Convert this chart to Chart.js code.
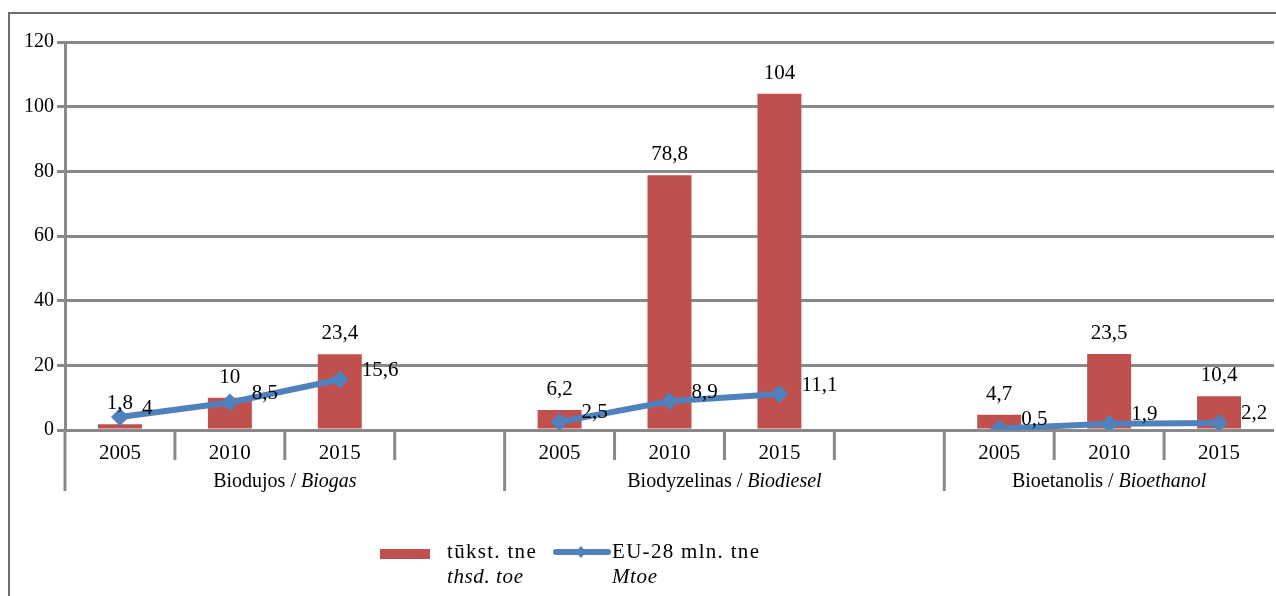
<!DOCTYPE html>
<html>
<head>
<meta charset="utf-8">
<script src="https://cdn.jsdelivr.net/npm/chart.js@4.4.1/dist/chart.umd.min.js"></script>
<style>
  html, body { margin: 0; padding: 0; background: #fff; }
  #wrap { position: relative; width: 1276px; height: 596px; }
  .lg { position: absolute; font-family: "Liberation Serif", serif; font-size: 21px; line-height: 25px; color: #000; white-space: nowrap; letter-spacing: 1.3px; }
  .lg i { display: block; letter-spacing: 0.6px; }
  .sym { position: absolute; }
</style>
</head>
<body>
<div id="wrap">
  <canvas id="chart" width="1276" height="596"></canvas>
  <svg class="sym" style="left:380px;top:549px" width="50" height="10"><rect x="0" y="0" width="50" height="10" fill="#C0504D"/></svg>
  <div class="lg" style="left:447px;top:539px">tūkst. tne<i>thsd. toe</i></div>
  <svg class="sym" style="left:553px;top:544px" width="58" height="16">
    <line x1="3" y1="8" x2="55" y2="8" stroke="#4F81BD" stroke-width="6" stroke-linecap="round"/>
    <polygon points="28,2 33,8 28,14 23,8" fill="#4F81BD"/>
  </svg>
  <div class="lg" style="left:612px;top:539px">EU-28 mln. tne<i>Mtoe</i></div>
</div>
<script>
// data
const years = ['2005', '2010', '2015', '', '2005', '2010', '2015', '', '2005', '2010', '2015'];
const groupNames = ['Biodujos', 'Biodyzelinas', 'Bioetanolis'];
const groupNamesEn = ['Biogas', 'Biodiesel', 'Bioethanol'];
const groupStart = [0, 4, 8];
const groupEnd = [3, 7, 10];
const thsdToe = [1.8, 10, 23.4, null, 6.2, 78.8, 104, null, 4.7, 23.5, 10.4];
const eu28Mtoe = [4, 8.5, 15.6, null, 2.5, 8.9, 11.1, null, 0.5, 1.9, 2.2];
const yMin = 0, yMax = 120, yStep = 20;

const FONT = '"Liberation Serif", serif';
const GRID = '#898989';

function fmt(v) {
    return String(v).replace('.', ',');
}

//extra drawing: border, axis dividers, group names, value labels
const decor = {
    id: 'decor',
    afterDatasetsDraw(chart) {
        const ctx = chart.ctx;
        ctx.save();
        ctx.font = '21px ' + FONT;
        ctx.fillStyle = '#000';
        // bar labels
        chart.getDatasetMeta(0).data.forEach((bar, i) => {
            if (thsdToe[i] == null) return;
            ctx.textAlign = 'center';
            ctx.textBaseline = 'bottom';
            ctx.fillText(fmt(thsdToe[i]), bar.x, bar.y - 10);
        });
        // line labels
        chart.getDatasetMeta(1).data.forEach((pt, i) => {
            if (eu28Mtoe[i] == null) return;
            ctx.textAlign = 'left';
            ctx.textBaseline = 'middle';
            ctx.fillText(fmt(eu28Mtoe[i]), pt.x + 22, pt.y - 9);
        });
        ctx.restore();
    },
    afterDraw(chart) {
        const ctx = chart.ctx;
        const x = chart.scales.x;
        const area = chart.chartArea;
        const half = (x.getPixelForValue(1) - x.getPixelForValue(0)) / 2;
        ctx.save();
        // outer border
        ctx.strokeStyle = '#6e6e6e';
        ctx.lineWidth = 2;
        ctx.beginPath();
        ctx.moveTo(9, 596);
        ctx.lineTo(9, 13);
        ctx.lineTo(1276, 13);
        ctx.stroke();
        // category dividers
        ctx.strokeStyle = GRID;
        ctx.lineWidth = 3;
        for (let i = 0; i < years.length; i++) {
            const bx = x.getPixelForValue(i) - half;
            const len = groupStart.includes(i) ? 61 : 30;
            ctx.beginPath();
            ctx.moveTo(bx, area.bottom);
            ctx.lineTo(bx, area.bottom + len);
            ctx.stroke();
        }
        // group names
        ctx.fillStyle = '#000';
        ctx.textBaseline = 'middle';
        ctx.textAlign = 'left';
        groupNames.forEach((name, g) => {
            const a = name + ' / ';
            const b = groupNamesEn[g];
            ctx.font = '20px ' + FONT;
            const wa = ctx.measureText(a).width;
            ctx.font = 'italic 20px ' + FONT;
            const wb = ctx.measureText(b).width;
            const cx = (x.getPixelForValue(groupStart[g]) + x.getPixelForValue(groupEnd[g])) / 2;
            const sx = cx - (wa + wb) / 2;
            ctx.font = '20px ' + FONT;
            ctx.fillText(a, sx, area.bottom + 52);
            ctx.font = 'italic 20px ' + FONT;
            ctx.fillText(b, sx + wa, area.bottom + 52);
        });
        ctx.restore();
    }
};

var ctx = document.getElementById('chart').getContext('2d');
var myChart = new Chart(ctx, {
    type: 'bar',
    data: {
        labels: years,
        datasets: [{
                type: 'bar',
                label: 'tūkst. tne / thsd. toe',
                data: thsdToe,
                backgroundColor: '#C0504D',
                barPercentage: 0.4,
                categoryPercentage: 1,
                order: 2
            },
            {
                type: 'line',
                label: 'EU-28 mln. tne / Mtoe',
                data: eu28Mtoe,
                borderColor: '#4F81BD',
                backgroundColor: '#4F81BD',
                borderWidth: 6,
                pointStyle: 'rectRot',
                pointRadius: 9,
                pointBorderWidth: 0,
                spanGaps: false,
                tension: 0,
                order: 1
            }
        ]
    },
    options: {
        responsive: false,
        animation: false,
        layout: {
            autoPadding: false,
            padding: { top: 42, right: 2, left: 0, bottom: 0 }
        },
        plugins: {
            legend: { display: false },
            tooltip: { enabled: false }
        },
        scales: {
            x: {
                grid: { display: false },
                border: { display: false },
                ticks: {
                    font: { family: FONT, size: 21 },
                    color: '#000',
                    padding: 3,
                    maxRotation: 0,
                    autoSkip: false
                },
                afterFit: (s) => {
                    s.height = 166;
                    s.paddingLeft = 0;
                    s.paddingRight = 0;
                }
            },
            y: {
                min: yMin,
                max: yMax,
                ticks: {
                    stepSize: yStep,
                    font: { family: FONT, size: 20 },
                    color: '#000',
                    padding: 3
                },
                grid: { color: GRID, lineWidth: 3, tickLength: 8 },
                border: { color: GRID, width: 3 },
                afterFit: (s) => { s.width = 65; }
            }
        }
    },
    plugins: [decor]
});
</script>
</body>
</html>
